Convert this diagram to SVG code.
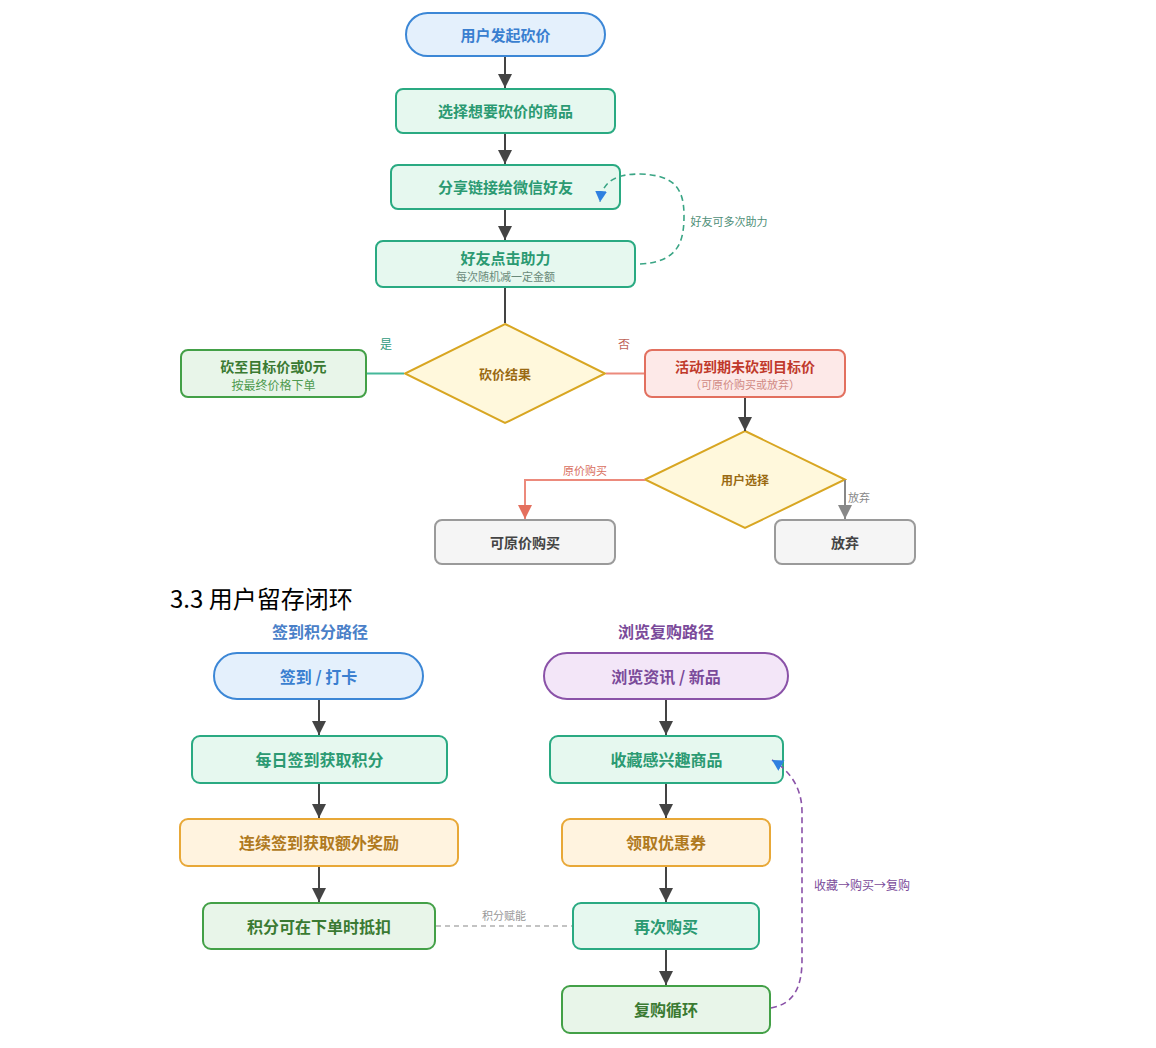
<svg xmlns="http://www.w3.org/2000/svg" width="1156" height="1048" viewBox="0 0 1156 1048">
<defs>
<style>
text{font-family:"Noto Sans CJK SC","Liberation Sans",sans-serif;text-anchor:middle;dominant-baseline:central}
.t{font-size:15px;font-weight:bold}
.b{font-size:16px;font-weight:bold}
.s{font-size:11px}
.blue rect{fill:#e4f0fc;stroke:#3c87d6;stroke-width:2}
.teal rect{fill:#e6f8ef;stroke:#2aaa82;stroke-width:2}
.green rect{fill:#e8f5e9;stroke:#43a047;stroke-width:2}
.red rect{fill:#fde9e8;stroke:#e2705f;stroke-width:2}
.grey rect{fill:#f5f5f5;stroke:#9a9a9a;stroke-width:2}
.orange rect{fill:#fff3df;stroke:#e8a838;stroke-width:2}
.purple rect{fill:#f3e6f8;stroke:#8a52a8;stroke-width:2}
.dia polygon{fill:#fff8dc;stroke:#d8a622;stroke-width:2}
.arr{stroke:#444;stroke-width:2;fill:none}
</style>
<marker id="ah" markerUnits="userSpaceOnUse" markerWidth="14" markerHeight="14" refX="14" refY="7" orient="auto"><path d="M0,0 L14,7 L0,14 z" fill="#444"/></marker>
<marker id="ahr" markerUnits="userSpaceOnUse" markerWidth="14" markerHeight="14" refX="14" refY="7" orient="auto"><path d="M0,0 L14,7 L0,14 z" fill="#e4705e"/></marker>
<marker id="ahg" markerUnits="userSpaceOnUse" markerWidth="14" markerHeight="14" refX="14" refY="7" orient="auto"><path d="M0,0 L14,7 L0,14 z" fill="#888"/></marker>
<marker id="ahb" markerUnits="userSpaceOnUse" markerWidth="12" markerHeight="12" refX="11" refY="6" orient="auto"><path d="M0,0 L11,6 L0,12 z" fill="#2f80e0"/></marker>
</defs>
<rect width="1156" height="1048" fill="#fff"/>

<g id="n1" class="blue"><rect x="406" y="13" width="199" height="43" rx="21.5"/><text class="t" x="505.5" y="34" fill="#3a7fd0">用户发起砍价</text></g>
<g id="n2" class="teal"><rect x="396" y="89" width="219" height="44" rx="7"/><text class="t" x="505.5" y="110.5" fill="#2b9a72">选择想要砍价的商品</text></g>
<g id="n3" class="teal"><rect x="391" y="165" width="229" height="44" rx="7"/><text class="t" x="505.5" y="186.5" fill="#2b9a72">分享链接给微信好友</text></g>
<g id="n4" class="teal"><rect x="376" y="241" width="259" height="46" rx="7"/><text class="t" x="505.5" y="257.5" fill="#2b9a72">好友点击助力</text><text class="s" x="505.5" y="275.5" fill="#6a8a7a">每次随机减一定金额</text></g>
<g id="n5" class="dia"><polygon points="505,324 605,373.5 505,423 405,373.5"/><text x="505" y="373" font-size="13" font-weight="bold" fill="#9a6a12">砍价结果</text></g>
<g id="n6" class="green"><rect x="181" y="350" width="185" height="47" rx="7"/><text x="273.5" y="365.5" font-size="14" font-weight="bold" fill="#3a7a32">砍至目标价或0元</text><text x="273.5" y="384" font-size="12" fill="#4e9a4e">按最终价格下单</text></g>
<g id="n7" class="red"><rect x="645" y="350" width="200" height="47" rx="7"/><text x="745" y="365.5" font-size="14" font-weight="bold" fill="#c0392b">活动到期未砍到目标价</text><text class="s" x="745" y="384" fill="#d08a84">（可原价购买或放弃）</text></g>
<g id="n8" class="dia"><polygon points="745,431 845,479.5 745,528 645,479.5"/><text x="745" y="479" font-size="12" font-weight="bold" fill="#9a6a12">用户选择</text></g>
<g id="n9" class="grey"><rect x="435" y="520" width="180" height="44" rx="7"/><text x="525" y="541.5" font-size="14" font-weight="bold" fill="#444">可原价购买</text></g>
<g id="n10" class="grey"><rect x="775" y="520" width="140" height="44" rx="7"/><text x="845" y="541.5" font-size="14" font-weight="bold" fill="#444">放弃</text></g>

<text x="170" y="597" font-size="24" fill="#000" style="text-anchor:start">3.3 用户留存闭环</text>
<text class="b" x="320" y="630.5" fill="#4a80c8">签到积分路径</text>
<text class="b" x="666" y="630.5" fill="#7a4a9a">浏览复购路径</text>

<g id="b1" class="blue"><rect x="214" y="653" width="209" height="46" rx="23"/><text class="b" x="318.5" y="675.5" fill="#3a7fd0">签到 / 打卡</text></g>
<g id="b2" class="teal"><rect x="192" y="736" width="255" height="47" rx="8"/><text class="b" x="319.5" y="759" fill="#2b9a72">每日签到获取积分</text></g>
<g id="b3" class="orange"><rect x="180" y="819" width="278" height="47" rx="8"/><text class="b" x="319" y="842" fill="#b07a1e">连续签到获取额外奖励</text></g>
<g id="b4" class="green"><rect x="203" y="903" width="232" height="46" rx="8"/><text class="b" x="319" y="925.5" fill="#3a7a32">积分可在下单时抵扣</text></g>

<g id="c1" class="purple"><rect x="544" y="653" width="244" height="46" rx="23"/><text class="b" x="666" y="675.5" fill="#7a4a9a">浏览资讯 / 新品</text></g>
<g id="c2" class="teal"><rect x="550" y="736" width="233" height="47" rx="8"/><text class="b" x="666.5" y="759" fill="#2b9a72">收藏感兴趣商品</text></g>
<g id="c3" class="orange"><rect x="562" y="819" width="208" height="47" rx="8"/><text class="b" x="666" y="842" fill="#b07a1e">领取优惠券</text></g>
<g id="c4" class="teal"><rect x="573" y="903" width="186" height="46" rx="8"/><text class="b" x="666" y="925.5" fill="#2b9a72">再次购买</text></g>
<g id="c5" class="green"><rect x="562" y="986" width="208" height="47" rx="8"/><text class="b" x="666" y="1009" fill="#3a7a32">复购循环</text></g>

<g id="connectors">
<line class="arr" x1="505" y1="57" x2="505" y2="88" marker-end="url(#ah)"/>
<line class="arr" x1="505" y1="134" x2="505" y2="164" marker-end="url(#ah)"/>
<line class="arr" x1="505" y1="210" x2="505" y2="240" marker-end="url(#ah)"/>
<line class="arr" x1="505" y1="288" x2="505" y2="323"/>
<path d="M640,264 C 678,262 684,242 684,216 C 684,190 676,175 640,174 C 616,174 602,181 600,202" fill="none" stroke="#3aa585" stroke-width="1.6" stroke-dasharray="6,4" marker-end="url(#ahb)"/>
<text class="s" x="729" y="221" fill="#4f8f78">好友可多次助力</text>
<line x1="404" y1="373.5" x2="367" y2="373.5" stroke="#45b89a" stroke-width="2"/>
<text x="386" y="343" font-size="12" fill="#2f9a7c">是</text>
<line x1="606" y1="373.5" x2="644" y2="373.5" stroke="#ec8a7c" stroke-width="2"/>
<text x="624" y="343" font-size="12" fill="#c0645a">否</text>
<line class="arr" x1="745" y1="398" x2="745" y2="431" marker-end="url(#ah)"/>
<path d="M645,480 L525,480 L525,519" fill="none" stroke="#ec8a7c" stroke-width="2" marker-end="url(#ahr)"/>
<text class="s" x="585" y="470" fill="#d9705f">原价购买</text>
<line x1="845" y1="480" x2="845" y2="519" stroke="#888" stroke-width="2" marker-end="url(#ahg)"/>
<text class="s" x="859" y="497" fill="#888">放弃</text>

<line class="arr" x1="319" y1="700" x2="319" y2="735" marker-end="url(#ah)"/>
<line class="arr" x1="319" y1="784" x2="319" y2="818" marker-end="url(#ah)"/>
<line class="arr" x1="319" y1="867" x2="319" y2="902" marker-end="url(#ah)"/>
<line class="arr" x1="666" y1="700" x2="666" y2="735" marker-end="url(#ah)"/>
<line class="arr" x1="666" y1="784" x2="666" y2="818" marker-end="url(#ah)"/>
<line class="arr" x1="666" y1="867" x2="666" y2="902" marker-end="url(#ah)"/>
<line class="arr" x1="666" y1="950" x2="666" y2="985" marker-end="url(#ah)"/>
<line x1="436" y1="926" x2="572" y2="926" stroke="#b0b0b0" stroke-width="1.6" stroke-dasharray="5,4"/>
<text class="s" x="504" y="915" fill="#999">积分赋能</text>
<path d="M771,1008 C 792,1004 802,990 802,960 L 802,812 C 802,790 792,772 772,760" fill="none" stroke="#8a52a8" stroke-width="1.6" stroke-dasharray="6,4" marker-end="url(#ahb)"/>
<text x="862" y="884" font-size="12" fill="#7a4a9a">收藏→购买→复购</text>
</g>
</svg>
